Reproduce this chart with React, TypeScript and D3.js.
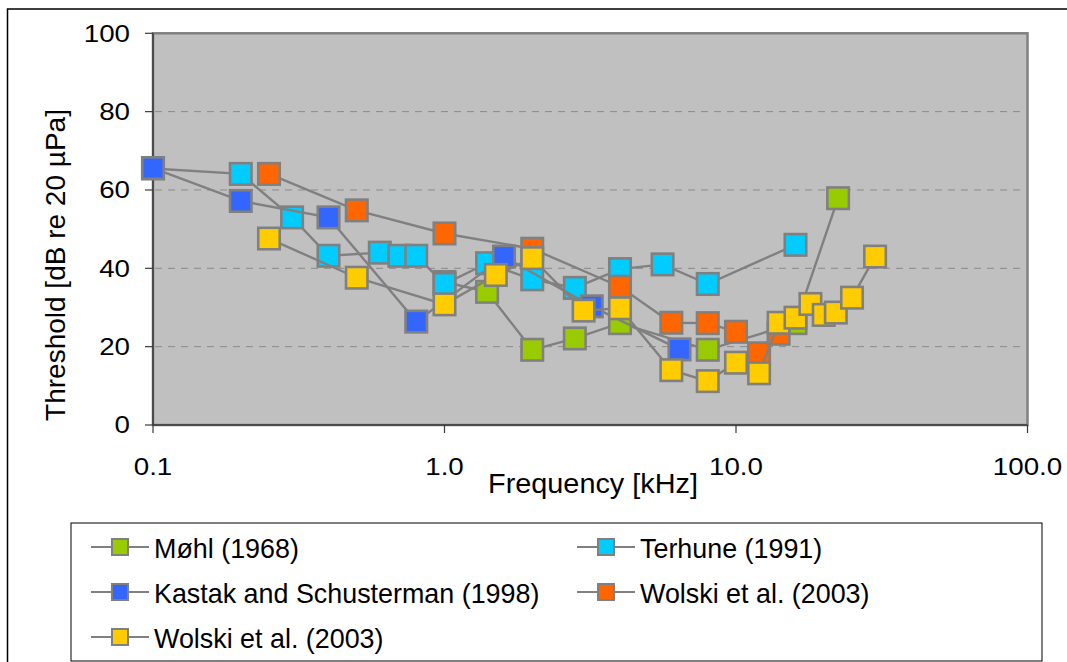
import React from 'react';
import * as d3 from 'd3';

// ---- data ----
const xTicks = [0.1, 1, 10, 100];
const xTickLabels = ['0.1', '1.0', '10.0', '100.0'];
const yTicks = [0, 20, 40, 60, 80, 100];
const yGrid = [20, 40, 60, 80];

const seriesNames = ['Møhl (1968)', 'Terhune (1991)', 'Kastak and Schusterman (1998)', 'Wolski et al. (2003)', 'Wolski et al. (2003)'];
const seriesColors = ['#99CC00', '#00CCFF', '#3366FF', '#FF6600', '#FFCC00'];

const mohlFreq = [1.0, 1.4, 2.0, 2.8, 4.0, 8.0, 16, 22.4];
const mohlThr = [36.5, 34, 19.2, 22.1, 26, 19.2, 26, 57.9];

const terhuneFreq = [0.1, 0.2, 0.3, 0.4, 0.6, 0.7, 0.8, 1.0, 1.4, 2.0, 2.8, 4.0, 5.6, 8.0, 16];
const terhuneThr = [65.5, 64.1, 53, 43.2, 44, 43.2, 43.2, 36, 41.3, 37.2, 35, 39.8, 41, 36, 46];

const kastakFreq = [0.1, 0.2, 0.4, 0.8, 1.6, 3.2, 6.4];
const kastakThr = [65.6, 57.2, 53, 26.4, 43, 30.3, 19.3];

const wolskiAFreq = [0.25, 0.5, 1.0, 2.0, 4.0, 6.0, 8.0, 10, 12, 14];
const wolskiAThr = [64.1, 54.8, 48.9, 45, 35.3, 26.1, 26, 23.8, 18.3, 23.3];

const wolskiBFreq = [0.25, 0.5, 1.0, 1.5, 2.0, 3.0, 4.0, 6.0, 8.0, 10, 12, 14, 16, 18, 20, 22, 25, 30];
const wolskiBThr = [47.6, 37.6, 30.8, 38.3, 42.6, 29.2, 29.8, 14, 11.2, 15.9, 13.2, 26.1, 27.4, 30.9, 28.1, 28.7, 32.5, 43];

const seriesFreqs = [mohlFreq, terhuneFreq, kastakFreq, wolskiAFreq, wolskiBFreq];
const seriesThrs = [mohlThr, terhuneThr, kastakThr, wolskiAThr, wolskiBThr];

// ---- layout ----
const W = 1067;
const H = 662;
const PL = 153;
const PR = 1027.5;
const PT = 33.3;
const PB = 425;
const FONT = '"Liberation Sans", Arial, sans-serif';
const GREY = '#808080';

function T(props: { x: number; y: number; sx?: number; size: number; anchor?: string; rotate?: number; children: React.ReactNode }) {
  const { x, y, sx = 1, size, anchor = 'start', rotate = 0, children } = props;
  return (
    <text
      transform={`translate(${x},${y}) rotate(${rotate}) scale(${sx},1)`}
      fontSize={size}
      fontFamily={FONT}
      textAnchor={anchor}
      fill="#000"
    >
      {children}
    </text>
  );
}

export default function App() {
  const x = d3.scaleLog().domain([0.1, 100]).range([PL, PR]);
  const y = d3.scaleLinear().domain([0, 100]).range([PB, PT]);
  const line = d3
    .line<[number, number]>()
    .x((d) => x(d[0]))
    .y((d) => y(d[1]));

  const MS = 21.5;
  const legendRows = [
    { col: 0, row: 0 },
    { col: 1, row: 0 },
    { col: 0, row: 1 },
    { col: 1, row: 1 },
    { col: 0, row: 2 },
  ];
  const colX = [91, 577];
  const rowY = [547, 592, 637];

  return (
    <svg width={W} height={H} style={{ position: 'absolute', left: 0, top: 0, background: '#fff' }}>
      {/* outer chart frame */}
      <rect x={7.5} y={9} width={W + 20} height={H + 20} fill="#fff" stroke="#000" strokeWidth={1.5} />

      {/* plot area */}
      <rect x={PL} y={PT} width={PR - PL} height={PB - PT} fill="#C0C0C0" stroke={GREY} strokeWidth={2.5} />

      {/* gridlines */}
      {yGrid.map((v) => (
        <line key={'g' + v} x1={PL + 2} x2={PR - 2} y1={y(v)} y2={y(v)} stroke="#8a8a8a" strokeWidth={1} strokeDasharray="7,6" />
      ))}

      {/* axes */}
      <line x1={PL} x2={PL} y1={PT} y2={PB} stroke="#3a3a3a" strokeWidth={1.5} />
      <line x1={PL} x2={PR} y1={PB} y2={PB} stroke="#3a3a3a" strokeWidth={1.5} />
      {yTicks.map((v) => (
        <g key={'yt' + v}>
          <line x1={PL - 8} x2={PL} y1={y(v)} y2={y(v)} stroke="#3a3a3a" strokeWidth={1.2} />
          <T x={130} y={y(v) + 8.4} size={23.5} sx={1.18} anchor="end">{String(v)}</T>
        </g>
      ))}
      {xTicks.map((v, i) => (
        <g key={'xt' + v}>
          <line x1={x(v)} x2={x(v)} y1={PB} y2={PB + 8} stroke="#3a3a3a" strokeWidth={1.2} />
          <T x={x(v)} y={475} size={23.5} sx={1.18} anchor="middle">{xTickLabels[i]}</T>
        </g>
      ))}

      {/* axis titles */}
      <T x={593} y={493} size={28} sx={1.03} anchor="middle">Frequency [kHz]</T>
      <T x={65} y={265} size={28} anchor="middle" rotate={-90}>Threshold [dB re 20 µPa]</T>

      {/* series */}
      {seriesFreqs.map((fs, si) => {
        const pts = fs.map((f, j) => [f, seriesThrs[si][j]] as [number, number]);
        return (
          <g key={'s' + si}>
            <path d={line(pts) || ''} fill="none" stroke={GREY} strokeWidth={2.4} />
            {pts.map((p, j) => (
              <rect
                key={j}
                x={x(p[0]) - MS / 2}
                y={y(p[1]) - MS / 2}
                width={MS}
                height={MS}
                fill={seriesColors[si]}
                stroke={GREY}
                strokeWidth={2.6}
              />
            ))}
          </g>
        );
      })}

      {/* legend */}
      <rect x={71} y={523} width={971} height={138} fill="#fff" stroke="#000" strokeWidth={1} />
      {legendRows.map((r, i) => {
        const lx = colX[r.col];
        const ly = rowY[r.row];
        return (
          <g key={'l' + i}>
            <line x1={lx} x2={lx + 58} y1={ly} y2={ly} stroke={GREY} strokeWidth={2.2} />
            <rect x={lx + 29 - 8} y={ly - 8} width={16} height={16} fill={seriesColors[i]} stroke={GREY} strokeWidth={2} />
            <T x={lx + 63} y={ly + 10.5} size={28} sx={0.96}>{seriesNames[i]}</T>
          </g>
        );
      })}
    </svg>
  );
}
